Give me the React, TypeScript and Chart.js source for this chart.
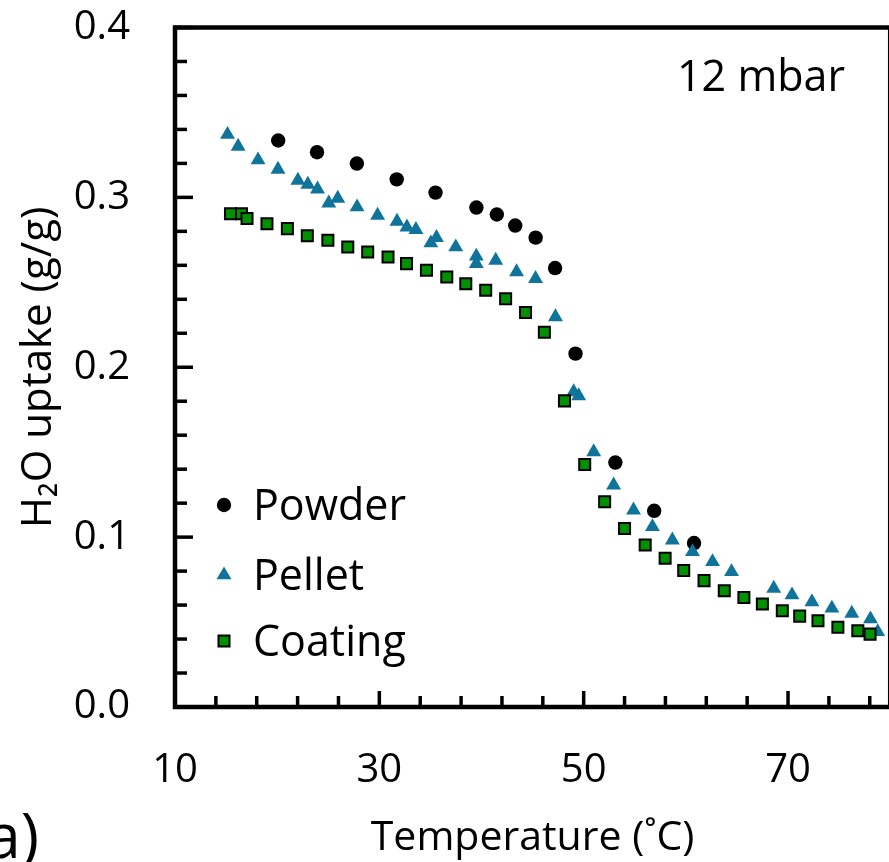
import React, { useEffect, useRef } from 'react';
import { Chart, registerables } from 'chart.js';

Chart.register(...registerables);

// ---- data ----
const powderT = [20.1, 23.9, 27.8, 31.7, 35.5, 39.5, 41.5, 43.3, 45.3, 47.2, 49.2, 53.1, 56.9, 60.8];
const powderV = [0.3335, 0.3266, 0.3199, 0.3106, 0.3028, 0.294, 0.2899, 0.2834, 0.2763, 0.2584, 0.208, 0.1439, 0.1155, 0.0965];

const pelletT = [15.14, 16.18, 18.13, 20.08, 22.03, 23.0, 23.95, 25.05, 25.93, 27.82, 29.83, 31.73, 32.7, 33.58, 35.04, 35.59, 37.48, 39.49, 39.49, 41.39, 43.43, 45.29, 47.24, 49.02, 49.51, 50.98, 52.93, 54.88, 56.73, 58.68, 60.65, 62.61, 64.47, 68.6, 70.39, 72.34, 74.29, 76.24, 78.07, 78.78];
const pelletV = [0.337, 0.33, 0.322, 0.3165, 0.31, 0.3076, 0.3048, 0.2966, 0.2994, 0.2943, 0.2894, 0.2859, 0.2825, 0.281, 0.2731, 0.2763, 0.2708, 0.2653, 0.261, 0.2629, 0.2561, 0.2522, 0.2296, 0.1855, 0.1831, 0.1502, 0.1306, 0.1159, 0.1061, 0.0982, 0.0914, 0.0855, 0.0796, 0.0698, 0.0659, 0.0619, 0.0581, 0.0551, 0.0518, 0.0443];

const coatingT = [15.43, 16.51, 17.05, 19.0, 21.0, 22.95, 24.96, 26.91, 28.86, 30.85, 32.66, 34.61, 36.6, 38.46, 40.41, 42.36, 44.31, 46.15, 48.12, 50.1, 52.05, 54.0, 56.02, 57.97, 59.79, 61.78, 63.76, 65.68, 67.49, 69.44, 71.14, 72.93, 74.88, 76.83, 78.03];
const coatingV = [0.2904, 0.2904, 0.2876, 0.2845, 0.2816, 0.2774, 0.2747, 0.2708, 0.2678, 0.2649, 0.261, 0.2571, 0.2531, 0.2492, 0.2453, 0.2403, 0.2322, 0.2206, 0.1802, 0.1428, 0.1208, 0.1051, 0.0953, 0.0875, 0.0803, 0.0744, 0.0684, 0.0645, 0.0606, 0.0566, 0.0535, 0.0508, 0.0469, 0.0449, 0.0429];

const seriesLabels = ['Powder', 'Pellet', 'Coating'];

// ---- axes ----
const xMin = 10;
const xMax = 80;
const xMinorStep = 4;
const xLabelTicks = [10, 30, 50, 70];
const yMin = 0;
const yMax = 0.4;
const yMinorStep = 0.02;
const yLabelTicks = [0, 0.1, 0.2, 0.3, 0.4];

const xTitle = 'Temperature (˚C)';
const yTitle = 'H₂O uptake (g/g)';
const noteText = '12 mbar';
const panelText = 'a)';

const FONT = "'Open Sans', sans-serif";
const BLUE = '#10749A';
const GREEN = '#009100';

const toPoints = (xs: number[], ys: number[]) => xs.map((x, i) => ({ x, y: ys[i] }));
const isLabelY = (v: number) => yLabelTicks.some((t) => Math.abs(t - v) < 1e-6);

function drawMarker(ctx: CanvasRenderingContext2D, style: string, cx: number, cy: number, r: number, fill: string, stroke?: string, bw?: number) {
  ctx.beginPath();
  if (style === 'circle') {
    ctx.arc(cx, cy, r, 0, Math.PI * 2);
  } else if (style === 'triangle') {
    for (let k = 0; k < 3; k++) {
      const ang = (k * 2 * Math.PI) / 3;
      const px = cx + Math.sin(ang) * r;
      const py = cy - Math.cos(ang) * r;
      if (k === 0) ctx.moveTo(px, py);
      else ctx.lineTo(px, py);
    }
    ctx.closePath();
  } else {
    const s = Math.SQRT1_2 * r;
    ctx.rect(cx - s, cy - s, 2 * s, 2 * s);
  }
  ctx.fillStyle = fill;
  ctx.fill();
  if (stroke && bw) {
    ctx.strokeStyle = stroke;
    ctx.lineWidth = bw;
    ctx.stroke();
  }
}

export default function App() {
  const ref = useRef<HTMLCanvasElement>(null);

  useEffect(() => {
    const canvas = ref.current;
    if (!canvas) return;

    const framePlugin = {
      id: 'frameTicks',
      beforeDatasetsDraw(chart: any) {
        const { ctx, chartArea: a, scales } = chart;
        const x = scales.x;
        const y = scales.y;
        ctx.save();
        ctx.strokeStyle = '#000';
        ctx.lineCap = 'butt';
        ctx.lineWidth = 3.5;
        x.ticks.forEach((t: any) => {
          const px = x.getPixelForValue(t.value);
          const len = xLabelTicks.includes(t.value) ? 16 : 11;
          ctx.beginPath();
          ctx.moveTo(px, a.bottom);
          ctx.lineTo(px, a.bottom - len);
          ctx.stroke();
        });
        y.ticks.forEach((t: any) => {
          const py = y.getPixelForValue(t.value);
          const len = isLabelY(t.value) ? 18 : 12;
          ctx.beginPath();
          ctx.moveTo(a.left, py);
          ctx.lineTo(a.left + len, py);
          ctx.stroke();
        });
        ctx.lineWidth = 4.5;
        ctx.strokeRect(a.left, a.top, a.right - a.left, a.bottom - a.top);
        ctx.restore();
      },
      afterDraw(chart: any) {
        const { ctx, chartArea: a } = chart;
        ctx.save();
        // legend
        const rowOffsets = [202, 132, 66];
        chart.data.datasets.forEach((ds: any, i: number) => {
          const cy = a.bottom - rowOffsets[i];
          const cx = a.left + 49;
          drawMarker(ctx, ds.pointStyle, cx, cy, ds.pointRadius, ds.backgroundColor, ds.borderColor, ds.borderWidth);
          ctx.fillStyle = '#000';
          ctx.font = `43px ${FONT}`;
          ctx.textAlign = 'left';
          ctx.textBaseline = 'middle';
          ctx.fillText(ds.label, a.left + 78, cy + 3);
        });
        // note
        ctx.fillStyle = '#000';
        ctx.font = `43px ${FONT}`;
        ctx.textAlign = 'center';
        ctx.textBaseline = 'middle';
        ctx.fillText(noteText, a.left + 586, a.top + 51);
        // panel label
        ctx.font = `62px ${FONT}`;
        ctx.textAlign = 'right';
        ctx.textBaseline = 'alphabetic';
        ctx.fillText(panelText, 39, 858);
        ctx.restore();
      },
    };

    const chart = new Chart(canvas, {
      type: 'scatter',
      data: {
        datasets: [
          {
            label: seriesLabels[0],
            data: toPoints(powderT, powderV),
            pointStyle: 'circle',
            pointRadius: 7.2,
            backgroundColor: '#000',
            borderColor: '#000',
            borderWidth: 0,
            order: 2,
          },
          {
            label: seriesLabels[1],
            data: toPoints(pelletT, pelletV),
            pointStyle: 'triangle',
            pointRadius: 8.6,
            backgroundColor: BLUE,
            borderColor: BLUE,
            borderWidth: 0,
            order: 1,
          },
          {
            label: seriesLabels[2],
            data: toPoints(coatingT, coatingV),
            pointStyle: 'rect',
            pointRadius: 7.8,
            backgroundColor: GREEN,
            borderColor: '#000',
            borderWidth: 2,
            order: 0,
          },
        ],
      },
      options: {
        animation: false,
        responsive: false,
        maintainAspectRatio: false,
        devicePixelRatio: 1,
        layout: { padding: { top: 27.5, right: 7.5, left: 0, bottom: 0 } },
        plugins: {
          legend: { display: false },
          tooltip: { enabled: false },
        },
        scales: {
          x: {
            type: 'linear',
            min: xMin,
            max: xMax,
            grid: { display: false, drawTicks: false },
            border: { display: false },
            afterFit: (scale: any) => {
              scale.height = 155;
              scale.paddingLeft = 0;
              scale.paddingRight = 0;
            },
            afterBuildTicks: (scale: any) => {
              const t: any[] = [];
              for (let v = xMin; v < xMax; v += xMinorStep) t.push({ value: v });
              scale.ticks = t;
            },
            ticks: {
              autoSkip: false,
              maxRotation: 0,
              padding: 40,
              color: '#000',
              font: { family: FONT, size: 40 },
              callback: (v: any) => (xLabelTicks.includes(Number(v)) ? String(v) : ''),
            },
            title: {
              display: true,
              text: xTitle,
              color: '#000',
              font: { family: FONT, size: 41 },
              padding: { top: 0, bottom: -1 },
            },
          },
          y: {
            type: 'linear',
            min: yMin,
            max: yMax,
            grid: { display: false, drawTicks: false },
            border: { display: false },
            afterFit: (scale: any) => {
              scale.width = 175;
              scale.paddingTop = 0;
              scale.paddingBottom = 0;
            },
            afterBuildTicks: (scale: any) => {
              const t: any[] = [];
              const n = Math.round((yMax - yMin) / yMinorStep);
              for (let i = 0; i <= n; i++) t.push({ value: +(yMin + i * yMinorStep).toFixed(4) });
              scale.ticks = t;
            },
            ticks: {
              autoSkip: false,
              padding: 45,
              color: '#000',
              font: { family: FONT, size: 40 },
              callback: (v: any) => (isLabelY(Number(v)) ? Number(v).toFixed(1) : ''),
            },
            title: {
              display: true,
              text: yTitle,
              color: '#000',
              font: { family: FONT, size: 42 },
              padding: { top: 14, bottom: 0 },
            },
          },
        },
      },
      plugins: [framePlugin],
    } as any);

    return () => chart.destroy();
  }, []);

  return (
    <div style={{ position: 'fixed', left: 0, top: 0, width: 889, height: 862, overflow: 'hidden', background: '#fff' }}>
      <canvas ref={ref} width={900} height={862} style={{ display: 'block', width: 900, height: 862 }} />
    </div>
  );
}
